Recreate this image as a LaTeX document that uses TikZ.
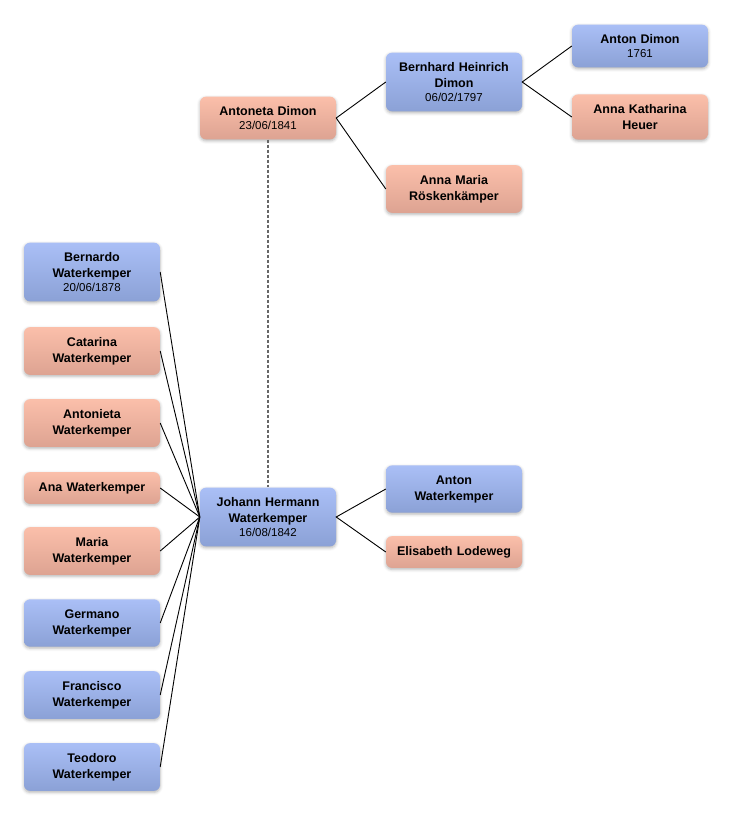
\documentclass[tikz,border=0pt]{standalone}
\usepackage{fontspec}
\setmainfont{Liberation Sans}
\usetikzlibrary{shadows.blur}

\definecolor{mtop}{RGB}{170,191,246}
\definecolor{mbot}{RGB}{139,161,214}
\definecolor{ftop}{RGB}{251,191,170}
\definecolor{fbot}{RGB}{221,163,146}

\newcommand{\bday}[1]{\\[-2.5pt]{\fontsize{11.5}{16}\selectfont\mdseries #1}}

\begin{document}
\begin{tikzpicture}[x=1pt,y=-1pt,
    pers/.style={rounded corners=6pt,text width=120pt,inner xsep=8pt,inner ysep=10pt,align=center,
        font=\fontsize{12.5}{16}\selectfont\bfseries,
        blur shadow={shadow xshift=0pt,shadow yshift=-1.5pt,shadow blur radius=3pt,shadow opacity=30}},
    male/.style={pers,top color=mtop,bottom color=mbot},
    female/.style={pers,top color=ftop,bottom color=fbot},
    link/.style={line width=0.9pt}]
    \useasboundingbox (0,0) rectangle (732,816);
    % ancestors
    \node[female] (antoneta) at (268,118) {Antoneta Dimon\bday{23/06/1841}};
    \node[male] (bernhard) at (454,82) {Bernhard Heinrich\\Dimon\bday{06/02/1797}};
    \node[female] (roesk) at (454,189) {Anna Maria\\Röskenkämper};
    \node[male] (antond) at (640,46) {Anton Dimon\bday{1761}};
    \node[female] (heuer) at (640,117) {Anna Katharina\\Heuer};
    \node[male] (johann) at (268,517) {Johann Hermann\\Waterkemper\bday{16/08/1842}};
    \node[male] (antonw) at (454,489) {Anton\\Waterkemper};
    \node[female] (elis) at (454,552) {Elisabeth Lodeweg};
    % children
    \foreach[count=\i] \y/\s/\t in {272/male/{Bernardo\\Waterkemper\bday{20/06/1878}},
        351/female/{Catarina\\Waterkemper},423/female/{Antonieta\\Waterkemper},
        488/female/{Ana Waterkemper},551/female/{Maria\\Waterkemper},
        623/male/{Germano\\Waterkemper},695/male/{Francisco\\Waterkemper},
        767/male/{Teodoro\\Waterkemper}} {
        \node[\s] (c\i) at (92,\y) {\t};
        \draw[link] (c\i.east) -- (johann.west);
    }
    \draw[link] (bernhard.west) -- (antoneta.east) -- (roesk.west);
    \draw[link] (antond.west) -- (bernhard.east) -- (heuer.west);
    \draw[link] (antonw.west) -- (johann.east) -- (elis.west);
    \draw[black!60,line width=1.1pt,dash pattern=on 3pt off 2pt] (antoneta.south) -- (johann.north);
\end{tikzpicture}
\end{document}
